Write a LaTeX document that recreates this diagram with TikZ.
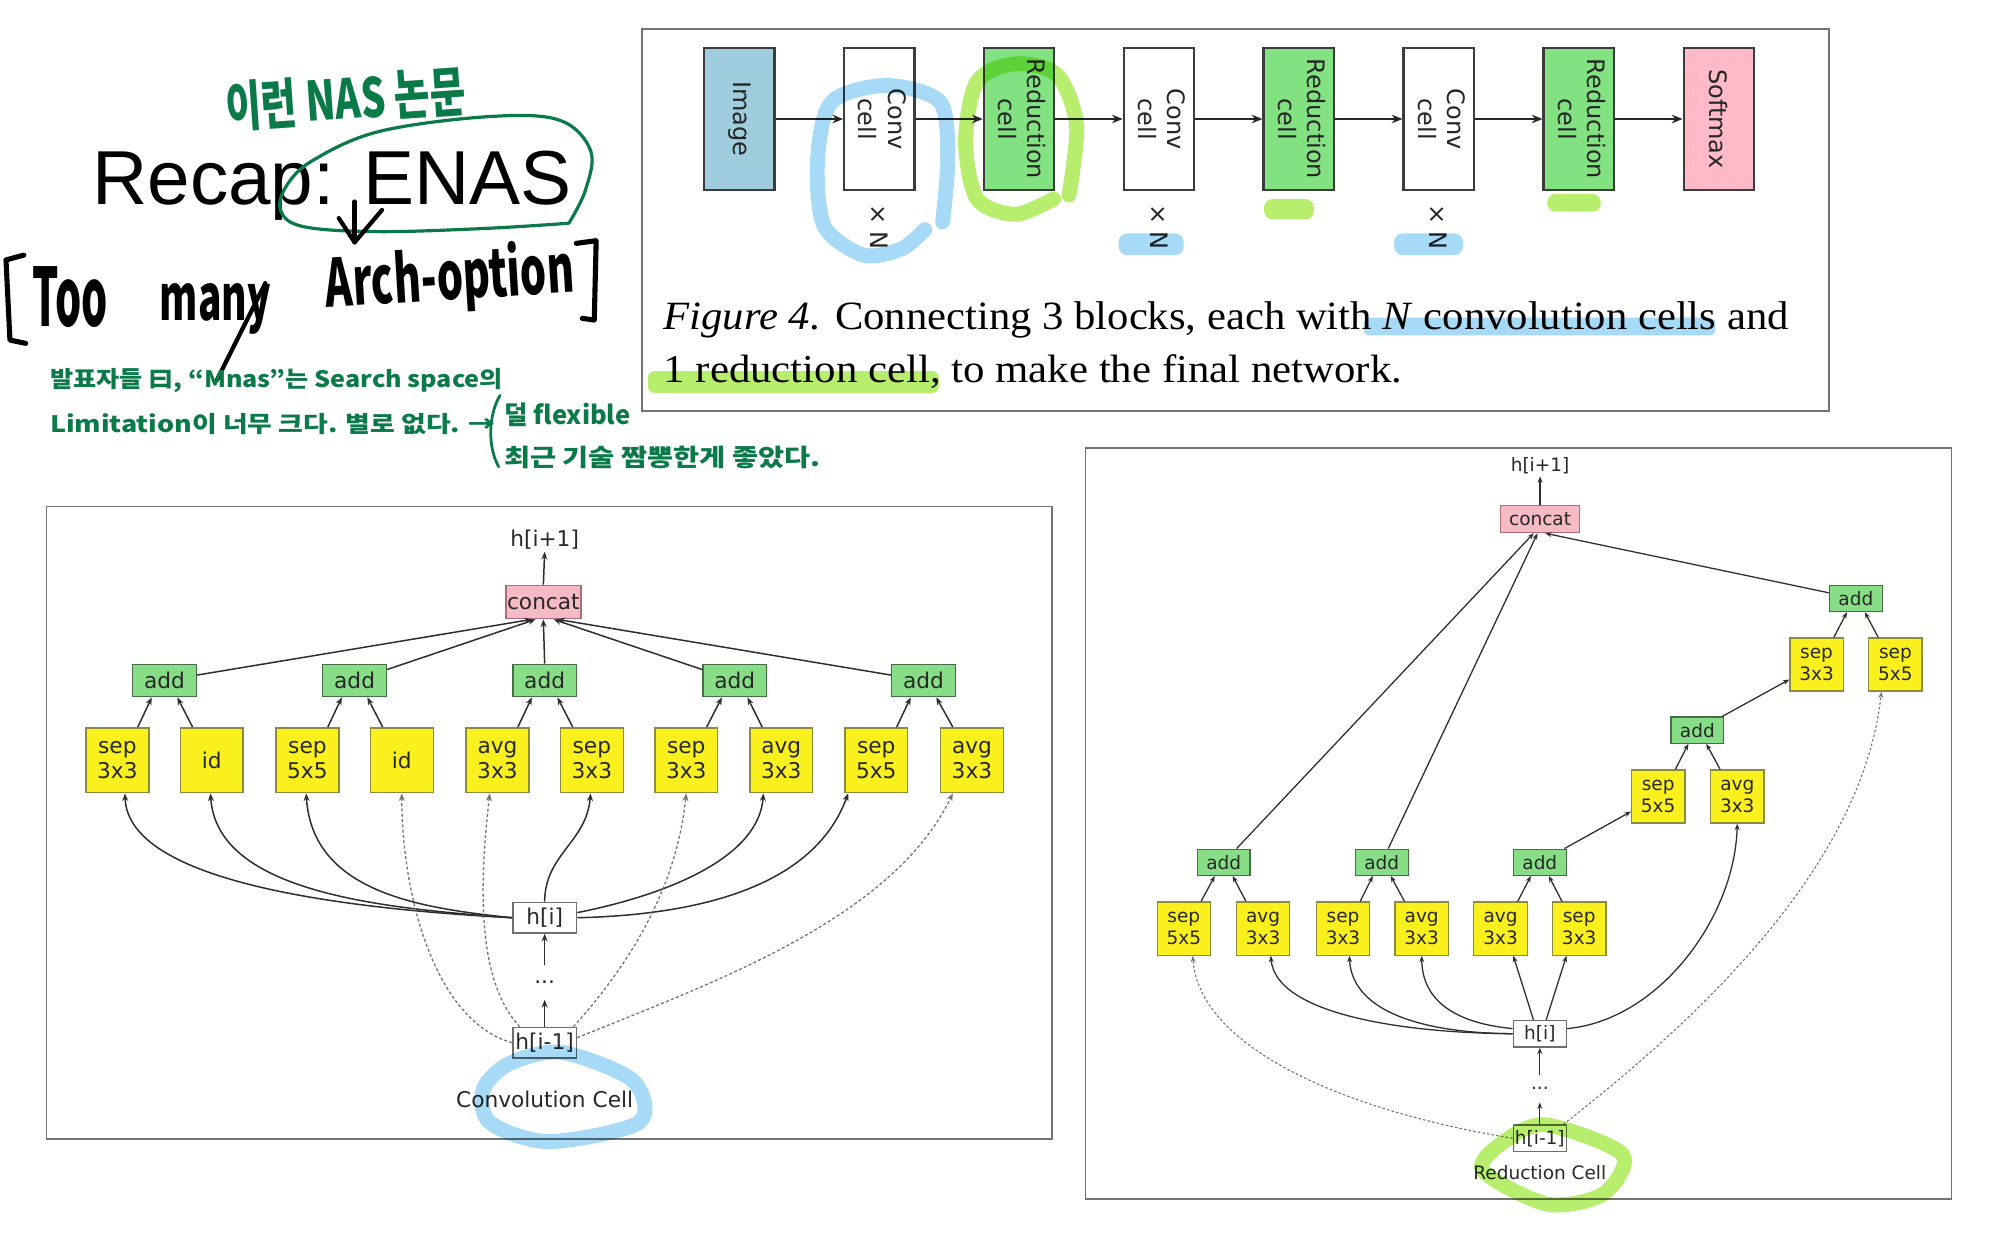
\documentclass[tikz,border=0pt]{standalone}
\usepackage{fontspec}
\usepackage{graphicx}
\usetikzlibrary{arrows.meta,calc}
\newfontfamily\dvs{DejaVu Sans}
\newfontfamily\lsans{Liberation Sans}
\newfontfamily\lserif{Liberation Serif}
\newfontfamily\kr{Noto Sans CJK KR}
\definecolor{hgreen}{RGB}{10,122,72}
\definecolor{blueHL}{RGB}{166,218,246}
\definecolor{greenHL}{RGB}{184,238,110}
\definecolor{imgfill}{RGB}{160,205,222}
\definecolor{redfill}{RGB}{130,226,130}
\definecolor{softfill}{RGB}{255,186,200}
\definecolor{blkedge}{RGB}{60,60,60}
\definecolor{frame}{RGB}{115,115,115}
\definecolor{yfill}{RGB}{250,240,30}
\definecolor{yedge}{RGB}{140,140,60}
\definecolor{afill}{RGB}{135,222,135}
\definecolor{aedge}{RGB}{70,110,70}
\definecolor{cfill}{RGB}{245,186,196}
\definecolor{cedge}{RGB}{170,110,120}
\definecolor{hedge}{RGB}{110,110,110}
\definecolor{lnc}{RGB}{45,45,45}
\definecolor{txc}{RGB}{40,40,40}
\newcommand{\fitb}[3]{\resizebox{\dimexpr 0.6pt*#1\relax}{\dimexpr 0.6pt*#2\relax}{#3}}
\tikzset{
  blk/.style={draw=blkedge, line width=1pt, minimum width=33.1pt, minimum height=66.4pt, inner sep=0pt,
    font=\dvs\fontsize{11.3}{13.7}\selectfont, text=black!85},
  farrow/.style={draw=black!85, line width=0.9pt, -{Stealth[length=5pt,width=4pt]}},
  lfont/.style={font=\dvs\fontsize{10.2}{11.7}\selectfont, text=txc},
  rfont/.style={font=\dvs\fontsize{8.7}{10.2}\selectfont, text=txc},
  ybox/.style={lfont, draw=yedge, fill=yfill, line width=0.7pt, minimum width=29.6pt, minimum height=30.5pt, inner sep=0pt, align=center},
  abox/.style={lfont, draw=aedge, fill=afill, line width=0.7pt, minimum width=30pt, minimum height=15.2pt, inner sep=0pt},
  cbox/.style={lfont, draw=cedge, fill=cfill, line width=0.7pt, minimum width=35.3pt, minimum height=15.6pt, inner sep=0pt},
  hbox/.style={lfont, draw=hedge, fill=white, line width=0.7pt, minimum width=30pt, minimum height=14.4pt, inner sep=0pt},
  plain/.style={lfont, inner sep=1pt},
  rybox/.style={rfont, draw=yedge, fill=yfill, line width=0.6pt, minimum width=25.1pt, minimum height=25pt, inner sep=0pt, align=center},
  rabox/.style={rfont, draw=aedge, fill=afill, line width=0.6pt, minimum width=24.8pt, minimum height=12.3pt, inner sep=0pt},
  rcbox/.style={rfont, draw=cedge, fill=cfill, line width=0.6pt, minimum width=37pt, minimum height=12.7pt, inner sep=0pt},
  rhbox/.style={rfont, draw=hedge, fill=white, line width=0.6pt, minimum width=25.1pt, minimum height=12.5pt, inner sep=0pt},
  rplain/.style={rfont, inner sep=1pt},
  cl/.style={draw=lnc, line width=0.7pt, -{Stealth[length=3.6pt,width=2.8pt]}},
  dl/.style={draw=black!55, line width=0.6pt, dash pattern=on 1.4pt off 1.1pt, -{Stealth[length=3.6pt,width=2.8pt]}},
  rl/.style={draw=lnc, line width=0.6pt, -{Stealth[length=3pt,width=2.3pt]}},
  rdl/.style={draw=black!55, line width=0.5pt, dash pattern=on 1.2pt off 1pt, -{Stealth[length=3pt,width=2.3pt]}},
  hand/.style={anchor=base west, inner sep=0pt},
  marker/.style={line width=7pt, line cap=round, line join=round},
}
\begin{document}
\begin{tikzpicture}[x=0.6pt,y=-0.6pt]
\useasboundingbox (0,0) rectangle (1568,980);
\fill[white] (0,0) rectangle (1568,980);

% ---------------- Title and handwriting ----------------
\node[hand, font=\lsans\fontsize{36}{40}\selectfont] (title) at (72,160) {Recap: ENAS};
\node[hand, text=hgreen, rotate=4] (hw1) at (178,100) {\fitb{188}{36}{\kr\bfseries 이런 NAS 논문}};
\draw[hgreen, line width=1.5pt, line cap=round, line join=round] plot[smooth, tension=0.6] coordinates
  {(446,175) (382,179) (297,181.6) (238,177.7) (220,165) (225,145) (246.5,125) (297.5,103) (382,91.5) (438,94) (463,118) (459,149) (446,175)};
\draw[black, line width=2pt, line cap=round, line join=round] (278,158) -- (278,190);
\draw[black, line width=2pt, line cap=round, line join=round] (265.6,171) -- (278,190) -- (299.5,164.6);
% brackets
\draw[black, line width=2.4pt, line cap=round, line join=round] (18.7,200) -- (4.7,203.8) -- (7.8,266.6) -- (20.2,269.2);
\draw[black, line width=2.4pt, line cap=round, line join=round] (451.8,190.8) -- (467.4,188.7) -- (465.9,250.9) -- (456.5,249.6);
\node[hand] (too) at (25,256) {\fitb{59}{47}{\kr\bfseries Too}};
\node[hand] (many) at (125,251) {\fitb{87}{29}{\kr\bfseries many}};
\node[hand, rotate=3.5] (arch) at (256,241) {\fitb{195}{43}{\kr\bfseries Arch-option}};
\draw[black, line width=2pt, line cap=round] (208,222) -- (170,298);
% green notes
\node[hand, text=hgreen] (g1) at (39,304) {\fitb{355}{15}{\kr\bfseries 발표자들 曰, “Mnas”는 Search space의}};
\node[hand, text=hgreen] (g2) at (39,339) {\fitb{349}{15}{\kr\bfseries Limitation이 너무 크다. 별로 없다. →}};
\node[hand, text=hgreen] (g3) at (395,333) {\fitb{99}{17}{\kr\bfseries 덜 flexible}};
\node[hand, text=hgreen] (g4) at (395,366) {\fitb{248}{16}{\kr\bfseries 최근 기술 짬뽕한게 좋았다.}};
\draw[hgreen, line width=1.3pt, line cap=round] (392,310) .. controls (383,325) and (382,350) .. (391,366);

% ---------------- Top figure ----------------
\draw[frame, line width=0.9pt] (503,23) rectangle (1434,322);
\node[blk, fill=imgfill] (img) at (579.6,93.3) {\rotatebox{-90}{Image}};
\node[blk, fill=white] (cv1) at (689.4,93.3) {\rotatebox{-90}{\begin{tabular}{@{}c@{}}Conv\\cell\end{tabular}}};
\node[blk, fill=redfill] (rd1) at (798.9,93.3) {\rotatebox{-90}{\begin{tabular}{@{}c@{}}Reduction\\cell\end{tabular}}};
\node[blk, fill=white] (cv2) at (908.6,93.3) {\rotatebox{-90}{\begin{tabular}{@{}c@{}}Conv\\cell\end{tabular}}};
\node[blk, fill=redfill] (rd2) at (1018.1,93.3) {\rotatebox{-90}{\begin{tabular}{@{}c@{}}Reduction\\cell\end{tabular}}};
\node[blk, fill=white] (cv3) at (1127.9,93.3) {\rotatebox{-90}{\begin{tabular}{@{}c@{}}Conv\\cell\end{tabular}}};
\node[blk, fill=redfill] (rd3) at (1237.7,93.3) {\rotatebox{-90}{\begin{tabular}{@{}c@{}}Reduction\\cell\end{tabular}}};
\node[blk, fill=softfill] (soft) at (1347.5,93.3) {\rotatebox{-90}{Softmax}};
\foreach \a/\b in {img/cv1,cv1/rd1,rd1/cv2,cv2/rd2,rd2/cv3,cv3/rd3,rd3/soft}
  \draw[farrow] (\a.east) -- (\b.west);
\foreach \n/\x in {xn1/689.4,xn2/908.6,xn3/1127.9}
  \node[font=\dvs\fontsize{11.3}{13.7}\selectfont, text=black!85, inner sep=0pt] (\n) at (\x,178) {\rotatebox{-90}{× N}};
\node[hand, font=\lserif] (cap1) at (520,258) {\resizebox{529.2pt}{13.1pt}{\fontsize{19}{22}\selectfont\textit{Figure 4.} Connecting 3 blocks, each with \textit{N} convolution cells and}};
\node[hand, font=\lserif] (cap2) at (520,300) {\resizebox{347.4pt}{13.1pt}{\fontsize{19}{22}\selectfont 1 reduction cell, to make the final network.}};

% ---------------- Left cell: Convolution Cell ----------------
\draw[frame, line width=0.8pt] (36.5,397) rectangle (824.6,893);
\node[plain] (lhip1) at (427,423) {h[i+1]};
\node[cbox] (lconcat) at (426,472) {concat};
\foreach \i/\x in {1/129,2/278,3/427,4/576,5/724}
  \node[abox] (la\i) at (\x,533.5) {add};
\foreach \i/\x/\t in {1/92/sep\\3x3, 2/166/id, 3/241/sep\\5x5, 4/315/id, 5/390/avg\\3x3, 6/464/sep\\3x3, 7/538/sep\\3x3, 8/612.5/avg\\3x3, 9/687/sep\\5x5, 10/762/avg\\3x3}
  \node[ybox] (ly\i) at (\x,596) {\t};
\node[hbox] (lhi) at (427,719.5) {h[i]};
\node[plain, minimum height=16.2pt, inner sep=0pt] (ldots) at (427,770) {...};
\node[hbox] (lhim) at (427,817.5) {h[i-1]};
\node[plain] (lcap) at (427,862) {Convolution Cell};

\draw[cl] (lconcat.north) -- (lhip1.south);
\draw[cl] (la1) -- ($(lconcat.south)+(-9,0)$);
\draw[cl] (la2) -- ($(lconcat.south)+(-6,0)$);
\draw[cl] (la3.north) -- (lconcat.south);
\draw[cl] (la4) -- ($(lconcat.south)+(8,0)$);
\draw[cl] (la5) -- ($(lconcat.south)+(11,0)$);
\foreach \k/\a/\b in {1/1/2,2/3/4,3/5/6,4/7/8,5/9/10}{
  \draw[cl] ($(ly\a.north)+(16,0)$) -- ($(la\k.south)+(-10,0)$);
  \draw[cl] ($(ly\b.north)+(-15,0)$) -- ($(la\k.south)+(10,0)$);
}
\draw[cl] (lhi.west) .. controls (260,712) and (100,690) .. ($(ly1.south)+(6,0)$);
\draw[cl] (lhi.west) .. controls (300,712) and (170,700) .. ($(ly2.south)+(-1,0)$);
\draw[cl] (lhi.west) .. controls (330,712) and (245,700) .. ($(ly3.south)+(-1,0)$);
\draw[cl] (lhi.north) .. controls (427,670) and (460,660) .. ($(ly6.south)+(-1,0)$);
\draw[cl] ($(lhi.east)+(0,-4)$) .. controls (530,700) and (595,670) .. ($(ly8.south)+(-14,0)$);
\draw[cl] (lhi.east) .. controls (560,717) and (640,690) .. ($(ly9.south)+(-22,0)$);
\draw[dl] (lhim.west) .. controls (340,800) and (315,700) .. (ly4.south);
\draw[dl] ($(lhim.north west)+(6,0)$) .. controls (375,770) and (375,700) .. ($(ly5.south)+(-6,0)$);
\draw[dl] ($(lhim.north east)+(-3,0)$) .. controls (490,760) and (530,700) .. (ly7.south);
\draw[dl] ($(lhim.east)+(0,-4)$) .. controls (560,770) and (700,720) .. ($(ly10.south)+(-15,0)$);
\draw[cl] (ldots.north) -- (lhi.south);
\draw[cl] (lhim.north) -- (ldots.south);

% ---------------- Right cell: Reduction Cell ----------------
\draw[frame, line width=0.8pt] (851,351) rectangle (1530,940);
\node[rplain] (rhip1) at (1207.4,365) {h[i+1]};
\node[rcbox] (rconcat) at (1207.4,407) {concat};
\node[rabox] (ra4) at (1455,469.2) {add};
\node[rybox] (rys3) at (1424.2,521) {sep\\3x3};
\node[rybox] (rys5) at (1486,521) {sep\\5x5};
\node[rabox] (ra5) at (1330.7,572.4) {add};
\node[rybox] (rym55) at (1300,624.4) {sep\\5x5};
\node[rybox] (rym33) at (1362,624.4) {avg\\3x3};
\foreach \i/\x in {1/959.4,2/1083.3,3/1207.2}
  \node[rabox] (ra\i) at (\x,676) {add};
\foreach \i/\x/\t in {1/928.1/sep\\5x5, 2/990.3/avg\\3x3, 3/1052.9/sep\\3x3, 4/1114.6/avg\\3x3, 5/1176.4/avg\\3x3, 6/1238.1/sep\\3x3}
  \node[rybox] (ry\i) at (\x,728) {\t};
\node[rhbox] (rhi) at (1207.2,810.4) {h[i]};
\node[rplain, minimum height=12.6pt, inner sep=0pt] (rdots) at (1207.2,853.5) {...};
\node[rhbox] (rhim) at (1207.2,892.4) {h[i-1]};
\node[rplain] (rcap) at (1207.2,919.3) {Reduction Cell};

\draw[rl] (rconcat.north) -- (rhip1.south);
\draw[rl] (ra1) -- ($(rconcat.south)+(-5,0)$);
\draw[rl] (ra2) -- ($(rconcat.south)+(-2,0)$);
\draw[rl] (ra4) -- ($(rconcat.south)+(4,0)$);
\draw[rl] (ra3) -- (rym55);
\draw[rl] (ra5) -- (rys3);
\foreach \a/\b/\k in {ry1/ry2/ra1, ry3/ry4/ra2, ry5/ry6/ra3, rym55/rym33/ra5, rys3/rys5/ra4}{
  \draw[rl] ($(\a.north)+(13.5,0)$) -- ($(\k.south)+(-7,0)$);
  \draw[rl] ($(\b.north)+(-13.5,0)$) -- ($(\k.south)+(7,0)$);
}
\draw[rl] (rhi.west) .. controls (1100,810) and (1000,795) .. ($(ry2.south)+(6,0)$);
\draw[rl] (rhi.west) .. controls (1120,810) and (1060,795) .. ($(ry3.south)+(5,0)$);
\draw[rl] ($(rhi.west)+(0,-4)$) .. controls (1150,803) and (1115,790) .. (ry4.south);
\draw[rl] ($(rhi.north)+(-5,0)$) -- ($(ry5.south)+(10,0)$);
\draw[rl] ($(rhi.north)+(5,0)$) -- ($(ry6.south)+(-10,0)$);
\draw[rl] ($(rhi.east)+(0,-4)$) .. controls (1300,800) and (1360,720) .. (rym33.south);
\draw[rdl] (rhim.west) .. controls (1050,870) and (940,820) .. ($(ry1.south)+(7,0)$);
\draw[rdl] ($(rhim.north east)+(-3,0)$) .. controls (1330,800) and (1460,680) .. ($(rys5.south)+(-11,0)$);
\draw[rl] (rdots.north) -- (rhi.south);
\draw[rl] (rhim.north) -- (rdots.south);

% ---------------- Highlighter strokes ----------------
\begin{scope}[blend mode=multiply]
\draw[blueHL, marker] plot[smooth] coordinates
  {(739,174) (743,125) (737,80) (695,67) (652,80) (641,125) (646,177) (677,200) (707,195) (725,180)};
\draw[greenHL, marker] plot[smooth] coordinates
  {(838,153) (844,98) (829,59) (796,50) (766,64) (757,111) (766,156) (796,168) (826,156)};
\fill[blueHL, rounded corners=4pt] (877,183) rectangle (928,200);
\fill[blueHL, rounded corners=4pt] (1093,183) rectangle (1147,200);
\fill[greenHL, rounded corners=4pt] (991,156) rectangle (1030,172);
\fill[greenHL, rounded corners=4pt] (1213,152) rectangle (1255,166);
\fill[blueHL, rounded corners=3pt] (1069,249) rectangle (1345,263);
\fill[greenHL, rounded corners=3pt] (508,291) rectangle (736,308);
\draw[blueHL, marker] plot[smooth cycle] coordinates
  {(440,825) (496,847) (501,880) (430,895) (384,880) (379,854) (399,834)};
\draw[greenHL, marker] plot[smooth cycle] coordinates
  {(1213,882) (1272,905) (1257,936) (1213,944) (1162,917) (1182,893)};
\end{scope}
\end{tikzpicture}
\end{document}
